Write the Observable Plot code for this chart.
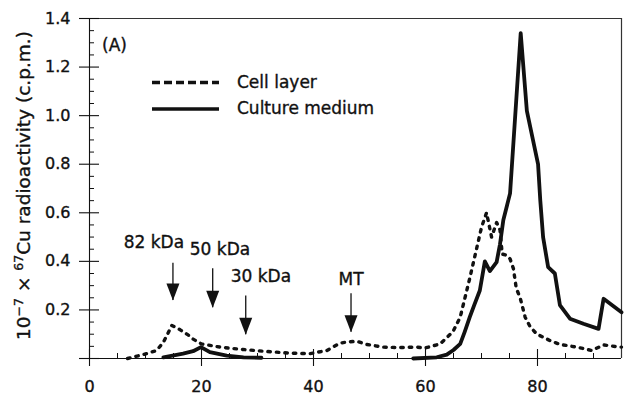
<!DOCTYPE html>
<html><head><meta charset="utf-8">
<script src="https://cdn.jsdelivr.net/npm/d3@7"></script>
<script src="https://cdn.jsdelivr.net/npm/@observablehq/plot@0.6"></script>
<style>
body{margin:0;background:#fff;}
#wrap{position:relative;width:629px;height:398px;font-family:"DejaVu Sans",sans-serif;}
#legend{position:absolute;left:0;top:0;pointer-events:none;}
#wrap text{stroke:#111;stroke-width:0.35px;}
</style></head><body><div id="wrap"></div>
<script>
// Cell layer (dashed)
const cellX = [6.8, 9.6, 12, 13.2, 14.7, 16.2, 17.6, 18.5, 20, 22, 23.3, 25.6, 27.4, 31.6, 35.8, 39.4, 42.4, 44.7, 46, 47.7, 49.5, 52.4, 55.4, 58.4, 59.9, 62.6, 64.9, 66.2, 67.9, 69.1, 70, 70.9, 71.8, 72.7, 73.3, 73.7, 74.5, 75.1, 75.7, 76.2, 76.9, 77.8, 78.7, 79.9, 81, 82.2, 84, 87, 89.7, 91.8, 94.7, 95];
const cellY = [0, 0.016, 0.033, 0.067, 0.136, 0.118, 0.097, 0.08, 0.06, 0.052, 0.047, 0.041, 0.037, 0.029, 0.022, 0.02, 0.033, 0.063, 0.068, 0.071, 0.058, 0.047, 0.045, 0.047, 0.043, 0.06, 0.11, 0.17, 0.33, 0.45, 0.54, 0.60, 0.50, 0.56, 0.53, 0.43, 0.425, 0.41, 0.37, 0.29, 0.25, 0.17, 0.13, 0.10, 0.088, 0.074, 0.058, 0.047, 0.033, 0.056, 0.047, 0.047];
// Culture medium (solid); null = gap
const mediumX = [13.2, 16.7, 18.5, 19.9, 21.5, 24.5, 27.5, 30.7, 44, 57.8, 62, 63.8, 65, 66.2, 67, 67.9, 68.7, 69.7, 70.6, 71.5, 72.7, 73.3, 73.9, 75.1, 77, 78.1, 80.1, 80.5, 81, 81.9, 83.1, 84, 85.8, 88.2, 90.9, 91.8, 95];
const mediumY = [0.005, 0.02, 0.03, 0.047, 0.026, 0.012, 0.005, 0.003, null, 0, 0.005, 0.016, 0.035, 0.06, 0.11, 0.17, 0.22, 0.28, 0.40, 0.36, 0.397, 0.47, 0.57, 0.68, 1.34, 1.02, 0.80, 0.65, 0.50, 0.376, 0.35, 0.22, 0.164, 0.143, 0.122, 0.246, 0.19];
// Marker annotations
const markerNames = ["82 kDa", "50 kDa", "30 kDa", "MT"];
const markerX = [14.9, 22.0, 27.9, 46.7];
const arrowTop = [0.392, 0.37, 0.257, 0.267];
const arrowTip = [0.239, 0.209, 0.098, 0.108];
const labelX = [11.5, 23.3, 30.6, 46.7];
const labelY = [0.456, 0.425, 0.315, 0.301];
// Ticks
const xMajor = [0, 20, 40, 60, 80];
const xMinor = [5, 10, 15, 25, 30, 35, 45, 50, 55, 65, 70, 75, 85, 90];
const yMajor = [0, 0.2, 0.4, 0.6, 0.8, 1.0, 1.2, 1.4];
const yLabelled = [0.2, 0.4, 0.6, 0.8, 1.0, 1.2, 1.4];
const yMinor = [0.05, 0.1, 0.15, 0.25, 0.3, 0.35, 0.45, 0.5, 0.55, 0.65, 0.7, 0.75, 0.85, 0.9, 0.95, 1.05, 1.1, 1.15, 1.25, 1.3, 1.35];
const seriesNames = ["Cell layer", "Culture medium"];
const Y_LABEL = "10-7 x 67Cu radioactivity (c.p.m.)";

const cell = cellX.map((x, i) => ({x, y: cellY[i]}));
const medium = mediumX.map((x, i) => ({x, y: mediumY[i]}));
const markers = markerNames.map((name, i) => ({name, x: markerX[i], top: arrowTop[i], tip: arrowTip[i], lx: labelX[i], ly: labelY[i]}));

const ink = "#111";
const downTriangle = {draw(ctx) { ctx.moveTo(0, 0); ctx.lineTo(-6.5, -17); ctx.lineTo(6.5, -17); ctx.closePath(); }};

const W = 629, H = 398, mL = 89, mR = 8, mT = 18, mB = 40;
const pw = W - mL - mR, ph = H - mT - mB;

const chart = Plot.plot({
  width: W, height: H,
  marginLeft: mL, marginRight: mR, marginTop: mT, marginBottom: mB,
  style: {fontFamily: "DejaVu Sans, sans-serif", fontSize: "16px", color: ink, background: "white", overflow: "visible"},
  x: {domain: [0, 95]},
  y: {domain: [0, 1.4]},
  marks: [
    Plot.ruleY([1.4], {stroke: "#333", strokeWidth: 1.2}),
    Plot.ruleX([95], {stroke: "#333", strokeWidth: 1.2}),
    Plot.ruleX([0], {stroke: ink, strokeWidth: 1.1}),
    Plot.ruleY([0], {stroke: ink, strokeWidth: 1.1}),
    Plot.tickX(xMajor, {x: d => d, insetTop: ph - 9, insetBottom: -8, stroke: ink, strokeWidth: 1.1}),
    Plot.tickX(xMinor, {x: d => d, insetTop: ph - 5, stroke: ink, strokeWidth: 1}),
    Plot.tickY(yMajor, {y: d => d, insetLeft: -10, insetRight: pw - 10, stroke: ink, strokeWidth: 1.1}),
    Plot.tickY(yMinor, {y: d => d, insetRight: pw - 5, stroke: ink, strokeWidth: 1}),
    Plot.axisX(xMajor, {tickSize: 0, tickPadding: 22, label: null, fontSize: 16}),
    Plot.axisY(yLabelled, {tickSize: 0, tickPadding: 19, label: null, fontSize: 16, tickFormat: d => d.toFixed(1)}),
    Plot.text([Y_LABEL], {frameAnchor: "left", dx: -65, dy: -3, rotate: -90, textAnchor: "middle", lineAnchor: "middle", fontSize: 18.5, fill: ink}),
    Plot.text(["(A)"], {frameAnchor: "top-left", dx: 12.5, dy: 32, textAnchor: "start", lineAnchor: "bottom", fontSize: 17, fill: ink}),
    Plot.line(cell, {x: "x", y: "y", stroke: ink, strokeWidth: 3.4, strokeDasharray: "2.5,6", strokeLinecap: "round", strokeLinejoin: "round"}),
    Plot.line(medium, {x: "x", y: "y", stroke: ink, strokeWidth: 3.8, strokeLinejoin: "round"}),
    Plot.ruleX(markers, {x: "x", y1: "top", y2: "tip", stroke: ink, strokeWidth: 1.3}),
    Plot.dot(markers, {x: "x", y: "tip", symbol: downTriangle, r: 6, fill: ink, stroke: "none"}),
    Plot.text(markers, {x: "lx", y: "ly", text: "name", textAnchor: "middle", lineAnchor: "bottom", fontSize: 17, fill: ink})
  ]
});

// superscripts in the y label
d3.select(chart).selectAll("text").filter(function() { return this.textContent === Y_LABEL; }).each(function() {
  const t = d3.select(this);
  t.text(null);
  t.append("tspan").text("10");
  t.append("tspan").attr("dy", -7).attr("font-size", 12.5).text("\u22127");
  t.append("tspan").attr("dy", 7).text(" \u00d7 ");
  t.append("tspan").attr("dy", -7).attr("font-size", 12.5).text("67");
  t.append("tspan").attr("dy", 7).text("Cu radioactivity (c.p.m.)");
});

const wrap = document.getElementById("wrap");
wrap.appendChild(chart);

// legend overlay
const leg = d3.select(wrap).append("svg").attr("id", "legend").attr("width", W).attr("height", H);
const legRows = [
  {name: seriesNames[0], y: 82.5, dash: "8,4"},
  {name: seriesNames[1], y: 109, dash: null}
];
legRows.forEach(r => {
  leg.append("line").attr("x1", 152).attr("x2", 219).attr("y1", r.y).attr("y2", r.y)
    .attr("stroke", ink).attr("stroke-width", 3.5).attr("stroke-dasharray", r.dash);
  leg.append("text").attr("x", 237).attr("y", r.y + 5.2).attr("font-size", 17)
    .attr("font-family", "DejaVu Sans, sans-serif").attr("fill", ink).text(r.name);
});
</script></body></html>
